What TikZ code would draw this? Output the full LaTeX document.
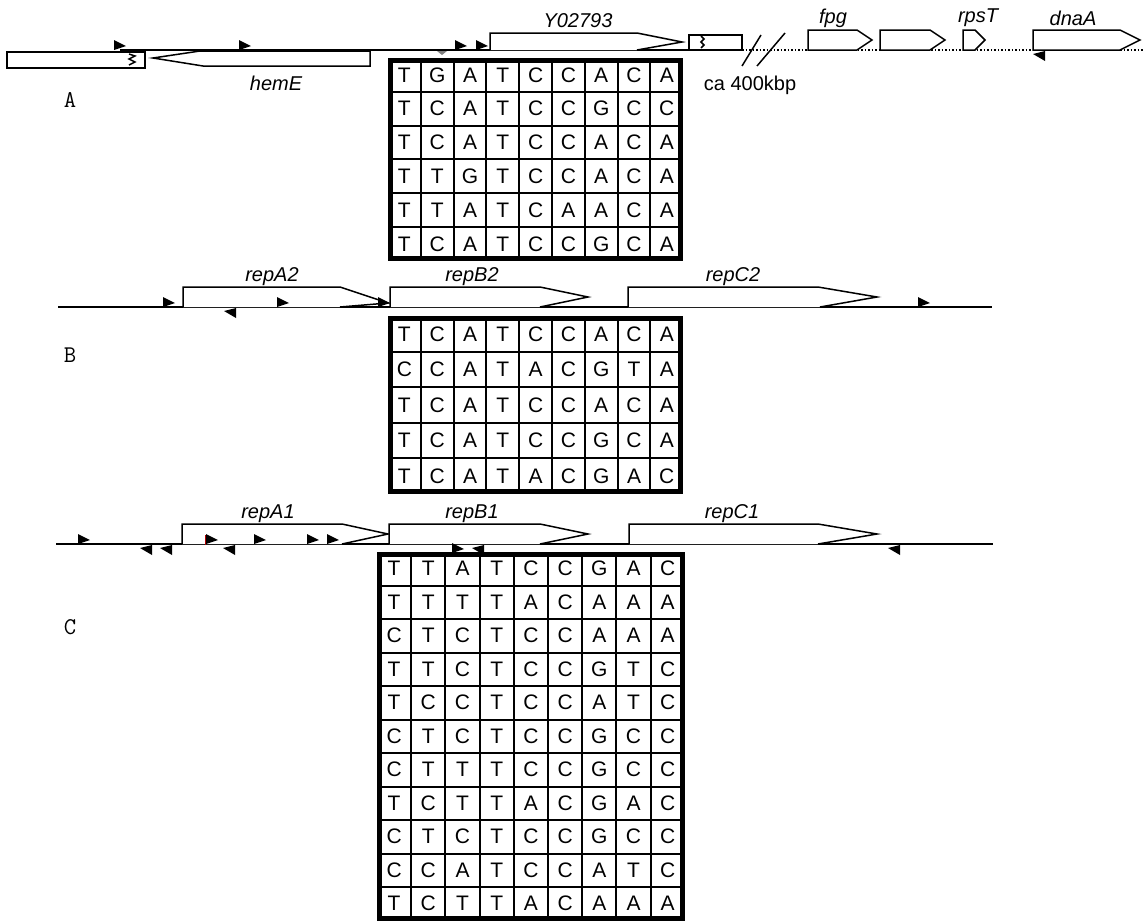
\documentclass[tikz,border=0pt]{standalone}
\usepackage{fontspec}
\setmainfont{Liberation Sans}

\begin{document}
\begin{tikzpicture}[x=1pt, y=-1pt,
  gene/.style={draw, line width=1.5pt, fill=white},
  genelabel/.style={font=\fontsize{20}{23}\selectfont\itshape},
  base/.style={font=\fontsize{21}{24}\selectfont, inner sep=0pt},
  panel/.style={font=\ttfamily\fontsize{24}{26}\selectfont},
  cell/.style={line width=2pt},
  frame/.style={line width=5pt},
  fwd/.pic={\fill (0,0) -- (0,-10) -- (12,-4) -- cycle;},
  rev/.pic={\fill (0,1) -- (0,11) -- (-12,4) -- cycle;},
]
\useasboundingbox (0,0) rectangle (1148,922);

% panel A
\draw[line width=1.5pt] (120,50) -- (689,50);
\draw[gene] (7,52) rectangle (145,68);
\draw[line width=1.5pt] (129,54) -- (135,56) -- (129,59) -- (135,62) -- (129,65);
\draw[gene] (153,58) -- (200,51) -- (370,51) -- (370,66) -- (203,66) -- cycle;
\draw[gene] (490,50) -- (490,33) -- (637,33) -- (682,42) -- (637,50);
\draw[gene] (689,35) rectangle (742,50);
\draw[line width=1.5pt] (701,36) -- (704,39) -- (701,42) -- (704,45) -- (701,48);
\draw[line width=1.5pt] (742,66) -- (761,35);
\draw[line width=1.5pt] (757,66) -- (785,33);
\draw[dotted, line width=1.5pt] (742,50) -- (1144,50);
\draw[gene] (808,50) -- (808,30) -- (857,30) -- (872,40) -- (857,50) -- cycle;
\draw[gene] (880,50) -- (880,30) -- (930,30) -- (945,40) -- (930,50) -- cycle;
\draw[gene] (963,50) -- (963,30) -- (975,30) -- (985,40) -- (975,50) -- cycle;
\draw[gene] (1033,50) -- (1033,30) -- (1120,30) -- (1140,40) -- (1120,50) -- cycle;
\pic at (114,50) {fwd};
\pic at (239,50) {fwd};
\pic at (455,50) {fwd};
\pic at (476,50) {fwd};
\pic at (1045,50) {rev};
\fill[gray] (437,51) -- (447,51) -- (442,55) -- cycle;

\node[genelabel] (hemE) at (276,83) {hemE};
\node[genelabel] (y02793) at (578,21) {Y02793};
\node[genelabel] (fpg) at (833,18) {fpg};
\node[genelabel] (rpsT) at (978,18) {rpsT};
\node[genelabel] (dnaA) at (1073,18) {dnaA};
\node[font=\fontsize{20}{23}\selectfont] (gap) at (750,85) {ca 400kbp};
\node[panel] (lblA) at (70,100) {A};

\foreach \row [count=\r] in {{T,G,A,T,C,C,A,C,A},{T,C,A,T,C,C,G,C,C},{T,C,A,T,C,C,A,C,A},
    {T,T,G,T,C,C,A,C,A},{T,T,A,T,C,A,A,C,A},{T,C,A,T,C,C,G,C,A}}
  \foreach \b [count=\c] in \row
    \node[base] (A-\r-\c) at ({388+32.8*(\c-0.5)},{58+33.8*(\r-0.5)}) {\b};
\foreach \c in {1,...,8} \draw[cell] ({388+32.8*\c},58) -- ({388+32.8*\c},261);
\foreach \r in {1,...,5} \draw[cell] (388,{58+33.8*\r}) -- (683,{58+33.8*\r});
\draw[frame] (390.5,60.5) rectangle (680.5,258.5);

% panel B
\draw[line width=1.5pt] (58,307) -- (992,307);
\draw[gene] (183,307) -- (183,287) -- (340,287) -- (388,303) -- (340,307);
\draw[gene] (390,307) -- (390,287) -- (540,287) -- (588,297) -- (540,307);
\draw[gene] (628,307) -- (628,287) -- (818,287) -- (877,297) -- (820,307);
\pic at (163,307) {fwd};
\pic at (277,307) {fwd};
\pic at (378,307) {fwd};
\pic at (918,307) {fwd};
\pic at (236,307) {rev};

\node[genelabel] (repA2) at (272,277) {repA2};
\node[genelabel] (repB2) at (472,277) {repB2};
\node[genelabel] (repC2) at (733,277) {repC2};
\node[panel] (lblB) at (70,355) {B};

\foreach \row [count=\r] in {{T,C,A,T,C,C,A,C,A},{C,C,A,T,A,C,G,T,A},{T,C,A,T,C,C,A,C,A},
    {T,C,A,T,C,C,G,C,A},{T,C,A,T,A,C,G,A,C}}
  \foreach \b [count=\c] in \row
    \node[base] (B-\r-\c) at ({388+32.8*(\c-0.5)},{316+35.6*(\r-0.5)}) {\b};
\foreach \c in {1,...,8} \draw[cell] ({388+32.8*\c},316) -- ({388+32.8*\c},494);
\foreach \r in {1,...,4} \draw[cell] (388,{316+35.6*\r}) -- (683,{316+35.6*\r});
\draw[frame] (390.5,318.5) rectangle (680.5,491.5);

% panel C
\draw[line width=1.5pt] (56,544) -- (993,544);
\draw[gene] (182,544) -- (182,524) -- (342,524) -- (388,534) -- (342,544);
\draw[gene] (389,544) -- (389,524) -- (540,524) -- (588,534) -- (540,544);
\draw[gene] (629,544) -- (629,524) -- (818,524) -- (877,534) -- (818,544);
\draw[red!70!black, line width=1pt] (205,535) -- (205,545);
\foreach \x in {78,206,254,307,327} \pic at (\x,544) {fwd};
\foreach \x in {152,172,235,900} \pic at (\x,544) {rev};
\pic at (452,553) {fwd};
\pic at (484,544) {rev};

\node[genelabel] (repA1) at (268,514) {repA1};
\node[genelabel] (repB1) at (472,514) {repB1};
\node[genelabel] (repC1) at (732,514) {repC1};
\node[panel] (lblC) at (70,627) {C};

\foreach \row [count=\r] in {{T,T,A,T,C,C,G,A,C},{T,T,T,T,A,C,A,A,A},{C,T,C,T,C,C,A,A,A},
    {T,T,C,T,C,C,G,T,C},{T,C,C,T,C,C,A,T,C},{C,T,C,T,C,C,G,C,C},{C,T,T,T,C,C,G,C,C},
    {T,C,T,T,A,C,G,A,C},{C,T,C,T,C,C,G,C,C},{C,C,A,T,C,C,A,T,C},{T,C,T,T,A,C,A,A,A}}
  \foreach \b [count=\c] in \row
    \node[base] (C-\r-\c) at ({377+34.2*(\c-0.5)},{552+33.5*(\r-0.5)}) {\b};
\foreach \c in {1,...,8} \draw[cell] ({377+34.2*\c},552) -- ({377+34.2*\c},920);
\foreach \r in {1,...,10} \draw[cell] (377,{552+33.5*\r}) -- (685,{552+33.5*\r});
\draw[frame] (379.5,554.5) rectangle (682.5,918.5);
\end{tikzpicture}
\end{document}
